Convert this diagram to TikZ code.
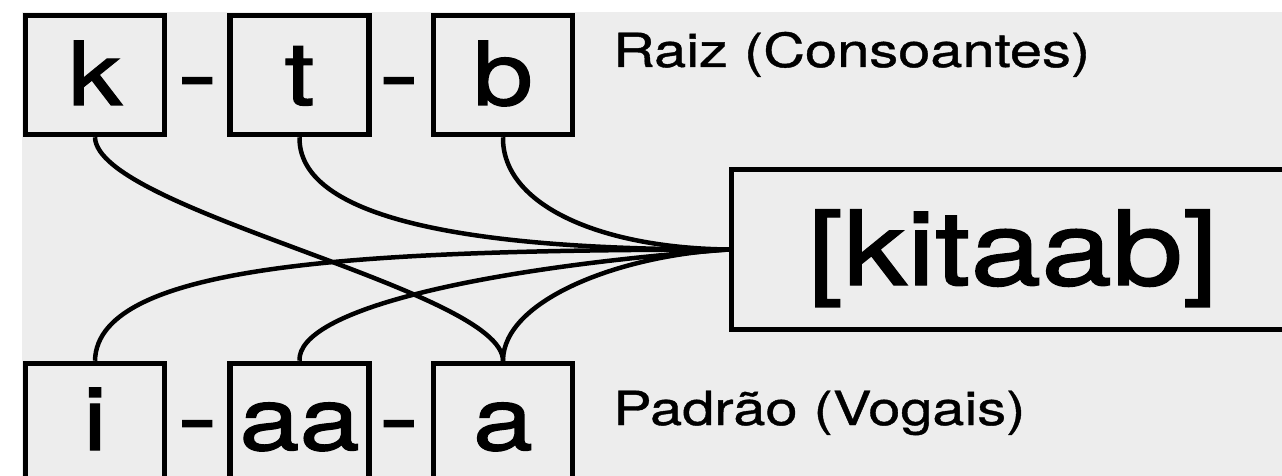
\documentclass[tikz,border=0pt]{standalone}
\usepackage{fontspec}
\setmainfont{TeX Gyre Heros}[FakeStretch=1.23,FakeBold=1.4]
\newfontfamily\labelfont{TeX Gyre Heros}[FakeStretch=1.23,FakeBold=0.8]
\definecolor{paper}{RGB}{237,237,237}
\begin{document}
\begin{tikzpicture}[x=1pt,y=-1pt,
  segbox/.style={draw=black,line width=5.5pt,minimum width=139pt,minimum height=119pt,
    inner sep=0pt,font=\fontsize{88}{88}\selectfont,text height=63pt,text depth=3pt},
  lowbox/.style={segbox,text depth=9pt},
  sep/.style={inner sep=0pt,anchor=base,font=\fontsize{88}{88}\selectfont},
  wordbox/.style={draw=black,line width=5.5pt,minimum width=563pt,minimum height=160pt,
    inner sep=0pt,font=\fontsize{103.5}{104}\selectfont,text height=76pt,text depth=5pt},
  caption/.style={inner sep=0pt,anchor=base west,font=\labelfont\fontsize{47}{47}\selectfont},
  link/.style={draw=black,line width=4.5pt}]
\useasboundingbox (0,0) rectangle (1282,476);
\fill[white] (0,0) rectangle (1282,476);
\fill[paper] (22,12) rectangle (1282,476);
\begin{scope}
\clip (0,0) rectangle (1282,476);
% root consonants
\node[segbox] (k) at (95,75) {k};
\node[segbox] (t) at (299.5,75) {t};
\node[segbox] (b) at (503,75) {b};
\node[sep] (d1) at (197.5,105) {\scalebox{1.12}[1]{-}};
\node[sep] (d2) at (399,105) {\scalebox{1.12}[1]{-}};
\node[caption] (root) at (613,67) {Raiz (Consoantes)};
% vowel pattern
\node[lowbox] (i) at (95,423) {i};
\node[lowbox] (aa) at (299.5,423) {aa};
\node[lowbox] (a) at (503,423) {a};
\node[sep] (d3) at (197.5,448) {\scalebox{1.12}[1]{-}};
\node[sep] (d4) at (399,448) {\scalebox{1.12}[1]{-}};
\node[caption] (pattern) at (613,425) {Padrão (Vogais)};
% resulting word
\node[wordbox] (kit) at (1013,249.5) {[kitaab]};
% interleaving links
\draw[link] (k.south) .. controls (97,210) and (503,290) .. (a.north);
\draw[link] (t.south) .. controls (298,230) and (520,250) .. (kit.west);
\draw[link] (b.south) .. controls (502,205) and (600,248) .. (kit.west);
\draw[link] (i.north) .. controls (97,262) and (370,250) .. (kit.west);
\draw[link] (aa.north) .. controls (297,310) and (480,268) .. (kit.west);
\draw[link] (a.north) .. controls (503,300) and (620,255) .. (kit.west);
\end{scope}
\end{tikzpicture}
\end{document}
